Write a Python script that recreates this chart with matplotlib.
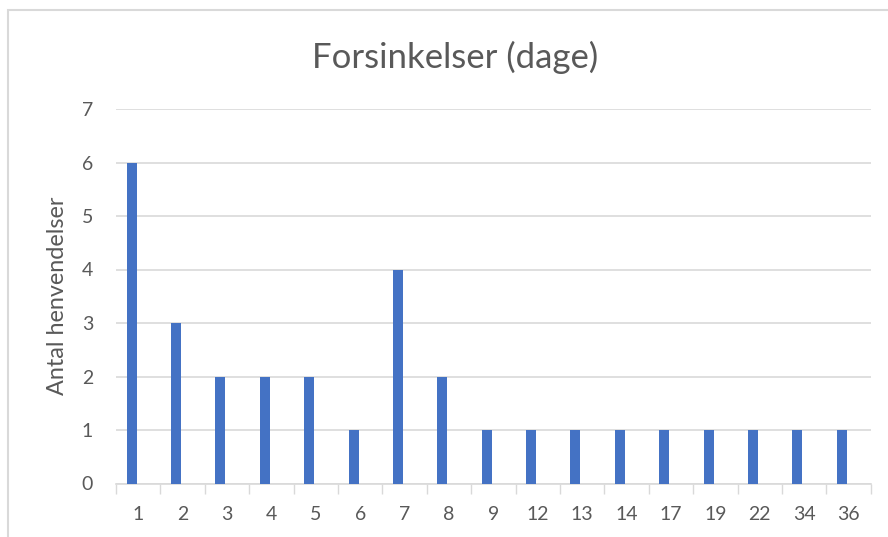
import numpy as np
import matplotlib.pyplot as plt
from matplotlib.patches import Rectangle

plt.rcParams['font.family'] = ['Lato', 'DejaVu Sans']

# Data
dage = ['1', '2', '3', '4', '5', '6', '7', '8', '9', '12', '13', '14', '17', '19', '22', '34', '36']
antal = [6, 3, 2, 2, 2, 1, 4, 2, 1, 1, 1, 1, 1, 1, 1, 1, 1]

txt = '#595959'
grid = '#D9D9D9'
blue = '#4472C4'

fig = plt.figure(figsize=(8.88, 5.37), dpi=100)
# chart border
fig.patches.append(Rectangle((8 / 888, -0.1), 1.2, 1.1 - 10 / 537, transform=fig.transFigure,
                             fill=False, edgecolor='#D9D9D9', linewidth=1.5))

ax = fig.add_axes([116 / 888, 1 - 483.5 / 537, (870.7 - 116) / 888, (483.5 - 109) / 537])
x = np.arange(len(dage))
ax.bar(x - 0.15, antal, width=0.225, color=blue, zorder=3)

ax.set_xlim(-0.5, len(dage) - 0.5)
ax.set_ylim(0, 7)
ax.set_yticks(range(8))
ax.set_xticks(x)
ax.set_xticklabels(dage)
ax.set_xticks(np.arange(-0.5, len(dage)), minor=True)
ax.tick_params(axis='x', which='major', length=0, pad=16, labelsize=14, labelcolor=txt)
ax.tick_params(axis='x', which='minor', length=7, width=1, color=grid)
ax.tick_params(axis='y', length=0, pad=16.5, labelsize=14, labelcolor=txt)
ax.yaxis.grid(True, color=grid, linewidth=1.2, zorder=0)

for s in ['top', 'right', 'left']:
    ax.spines[s].set_visible(False)
ax.spines['bottom'].set_color(grid)
ax.spines['bottom'].set_linewidth(1.2)

ax.set_ylabel('Antal henvendelser', fontsize=16.8, color=txt, va='center')
ax.yaxis.set_label_coords(-0.078, 0.5)
fig.text(0.512, 1 - 57 / 537, 'Forsinkelser (dage)', ha='center', va='center', fontsize=25, color=txt)

fig.savefig('out.png', dpi=100)
